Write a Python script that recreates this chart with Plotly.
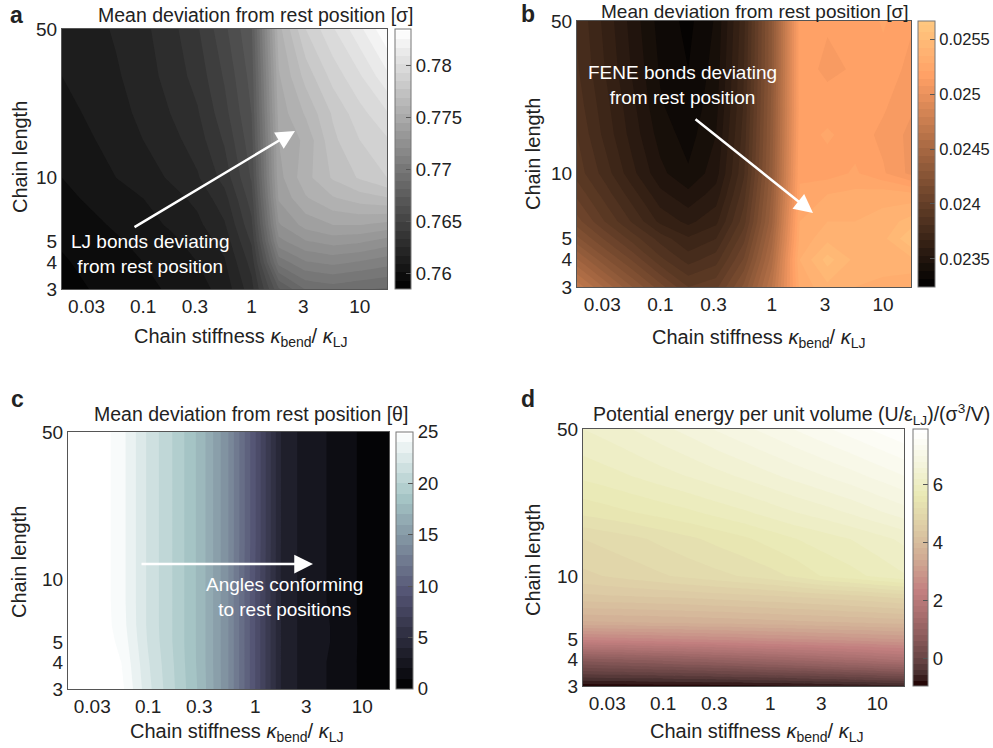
import math
import plotly.graph_objects as go

# ---------------- data ----------------
stiffness = [0.0178, 0.0316, 0.0562, 0.1, 0.178, 0.316, 0.562, 1.0, 1.78, 3.16, 5.62, 10.0, 17.8]
chain_length = [3, 4, 5, 6, 8, 10, 15, 20, 30, 50]

x_tick_vals = [0.03, 0.1, 0.3, 1, 3, 10]
x_tick_text = ["0.03", "0.1", "0.3", "1", "3", "10"]
y_tick_vals = [3, 4, 5, 10, 50]
y_tick_text = ["3", "4", "5", "10", "50"]

# (a) LJ bond deviation [sigma]; rows = chain_length, cols = stiffness
lj_dev = [
    [0.7590, 0.7593, 0.7596, 0.7599, 0.7602, 0.7606, 0.7612, 0.7630, 0.7672, 0.7690, 0.7693, 0.7690, 0.7688],
    [0.7592, 0.7595, 0.7598, 0.7601, 0.7605, 0.7609, 0.7616, 0.7636, 0.7700, 0.7712, 0.7715, 0.7712, 0.7708],
    [0.7594, 0.7597, 0.7600, 0.7603, 0.7607, 0.7612, 0.7620, 0.7642, 0.7718, 0.7728, 0.7732, 0.7730, 0.7725],
    [0.7596, 0.7599, 0.7602, 0.7606, 0.7610, 0.7615, 0.7624, 0.7647, 0.7728, 0.7740, 0.7745, 0.7745, 0.7742],
    [0.7599, 0.7602, 0.7605, 0.7609, 0.7614, 0.7619, 0.7630, 0.7653, 0.7738, 0.7752, 0.7760, 0.7765, 0.7768],
    [0.7601, 0.7605, 0.7609, 0.7613, 0.7618, 0.7624, 0.7636, 0.7658, 0.7742, 0.7758, 0.7770, 0.7778, 0.7785],
    [0.7604, 0.7608, 0.7612, 0.7617, 0.7622, 0.7629, 0.7642, 0.7662, 0.7745, 0.7755, 0.7775, 0.7785, 0.7792],
    [0.7606, 0.7610, 0.7614, 0.7619, 0.7625, 0.7632, 0.7646, 0.7665, 0.7748, 0.7762, 0.7778, 0.7790, 0.7800],
    [0.7609, 0.7612, 0.7616, 0.7621, 0.7628, 0.7636, 0.7650, 0.7668, 0.7752, 0.7772, 0.7788, 0.7800, 0.7815],
    [0.7612, 0.7614, 0.7618, 0.7623, 0.7630, 0.7640, 0.7655, 0.7672, 0.7758, 0.7785, 0.7800, 0.7815, 0.7832],
]

# (b) FENE bond deviation [sigma]
fene_dev = [
    [0.02470, 0.02450, 0.02430, 0.02412, 0.02395, 0.02400, 0.02425, 0.02465, 0.02530, 0.02540, 0.02535, 0.02532, 0.02530],
    [0.02445, 0.02425, 0.02408, 0.02390, 0.02378, 0.02385, 0.02410, 0.02455, 0.02535, 0.02552, 0.02540, 0.02540, 0.02540],
    [0.02425, 0.02408, 0.02392, 0.02378, 0.02368, 0.02374, 0.02400, 0.02448, 0.02530, 0.02540, 0.02538, 0.02540, 0.02555],
    [0.02412, 0.02395, 0.02380, 0.02365, 0.02358, 0.02365, 0.02392, 0.02442, 0.02528, 0.02535, 0.02535, 0.02538, 0.02545],
    [0.02400, 0.02385, 0.02370, 0.02355, 0.02348, 0.02356, 0.02385, 0.02438, 0.02522, 0.02528, 0.02530, 0.02532, 0.02530],
    [0.02392, 0.02378, 0.02362, 0.02348, 0.02340, 0.02350, 0.02380, 0.02435, 0.02520, 0.02518, 0.02522, 0.02515, 0.02505],
    [0.02388, 0.02372, 0.02357, 0.02343, 0.02336, 0.02346, 0.02377, 0.02433, 0.02518, 0.02522, 0.02518, 0.02512, 0.02505],
    [0.02385, 0.02370, 0.02355, 0.02340, 0.02334, 0.02344, 0.02375, 0.02432, 0.02517, 0.02518, 0.02518, 0.02515, 0.02508],
    [0.02382, 0.02367, 0.02352, 0.02338, 0.02332, 0.02342, 0.02374, 0.02430, 0.02518, 0.02512, 0.02515, 0.02518, 0.02512],
    [0.02380, 0.02365, 0.02350, 0.02336, 0.02330, 0.02340, 0.02372, 0.02430, 0.02518, 0.02515, 0.02515, 0.02522, 0.02515],
]

# (c) angle deviation [theta]
angle_dev = [
    [26.0, 26.0, 25.3, 22.3, 20.0, 17.6, 14.0, 9.0, 3.8, 2.4, 1.8, 0.8, 0.2],
    [26.0, 26.0, 25.0, 22.1, 19.9, 17.5, 14.0, 9.0, 3.8, 2.4, 1.8, 0.8, 0.2],
    [26.0, 26.0, 24.7, 21.9, 19.8, 17.5, 14.0, 9.0, 3.8, 2.4, 1.9, 0.8, 0.2],
    [26.0, 25.9, 24.5, 21.8, 19.8, 17.5, 14.0, 9.0, 3.8, 2.4, 1.9, 0.8, 0.2],
    [26.0, 25.9, 24.4, 21.8, 19.8, 17.5, 14.0, 9.0, 3.8, 2.4, 1.8, 0.8, 0.2],
    [26.0, 25.9, 24.4, 21.8, 19.8, 17.5, 14.0, 9.0, 3.8, 2.4, 1.8, 0.8, 0.2],
    [26.0, 25.9, 24.4, 21.8, 19.8, 17.5, 14.0, 9.1, 3.8, 2.4, 1.8, 0.8, 0.2],
    [26.0, 25.9, 24.4, 21.8, 19.8, 17.5, 14.0, 9.1, 3.8, 2.4, 1.8, 0.8, 0.2],
    [26.0, 25.9, 24.4, 21.8, 19.8, 17.5, 14.0, 9.1, 3.8, 2.4, 1.8, 0.8, 0.2],
    [26.0, 25.9, 24.4, 21.8, 19.8, 17.5, 14.0, 9.1, 3.8, 2.4, 1.8, 0.8, 0.2],
]

# (d) potential energy per unit volume
energy = [
    [-0.92, -0.91, -0.90, -0.89, -0.88, -0.87, -0.85, -0.83, -0.80, -0.76, -0.72, -0.68, -0.64],
    [0.70, 0.76, 0.82, 0.88, 0.95, 1.02, 1.10, 1.18, 1.27, 1.36, 1.45, 1.55, 1.65],
    [2.45, 2.49, 2.53, 2.57, 2.61, 2.65, 2.70, 2.75, 2.80, 2.85, 2.90, 2.95, 3.00],
    [3.55, 3.57, 3.59, 3.61, 3.63, 3.65, 3.68, 3.71, 3.74, 3.77, 3.80, 3.83, 3.86],
    [4.35, 4.38, 4.40, 4.43, 4.46, 4.50, 4.54, 4.58, 4.63, 4.68, 4.74, 4.80, 4.88],
    [4.75, 4.82, 4.90, 4.98, 5.06, 5.14, 5.22, 5.32, 5.45, 5.62, 5.72, 5.85, 5.98],
    [5.00, 5.08, 5.16, 5.26, 5.36, 5.46, 5.56, 5.68, 5.80, 5.90, 6.00, 6.12, 6.25],
    [5.45, 5.52, 5.60, 5.68, 5.76, 5.86, 5.96, 6.08, 6.20, 6.30, 6.42, 6.56, 6.70],
    [5.85, 5.93, 6.02, 6.12, 6.22, 6.33, 6.44, 6.56, 6.68, 6.80, 6.92, 7.06, 7.20],
    [6.20, 6.30, 6.42, 6.55, 6.68, 6.82, 6.95, 7.08, 7.22, 7.36, 7.50, 7.64, 7.78],
]

cb_a_ticks = [0.76, 0.765, 0.77, 0.775, 0.78]
cb_a_text = ["0.76", "0.765", "0.77", "0.775", "0.78"]
cb_b_ticks = [0.0235, 0.024, 0.0245, 0.025, 0.0255]
cb_b_text = ["0.0235", "0.024", "0.0245", "0.025", "0.0255"]
cb_c_ticks = [0, 5, 10, 15, 20, 25]
cb_c_text = ["0", "5", "10", "15", "20", "25"]
cb_d_ticks = [0, 2, 4, 6]
cb_d_text = ["0", "2", "4", "6"]

# ---------------- styling ----------------
W, H = 993, 748
FONT = "Liberation Sans, Arial, Helvetica, sans-serif"
TXT = "#222222"

gray_cs = [[0, "rgb(0,0,0)"], [1, "rgb(255,255,255)"]]
copper_cs = [[0, "rgb(0,0,0)"], [0.8, "rgb(255,159,101)"], [1, "rgb(255,199,127)"]]
bone_cs = [[0, "rgb(0,0,0)"], [0.375, "rgb(84,84,116)"], [0.75, "rgb(167,199,199)"], [1, "rgb(255,255,255)"]]
pink_cs = [[0, "rgb(30,0,0)"], [0.05, "rgb(71,47,47)"], [0.1, "rgb(101,66,66)"], [0.2, "rgb(142,93,93)"],
           [0.3, "rgb(174,114,114)"], [0.375, "rgb(195,128,128)"], [0.5, "rgb(208,170,147)"],
           [0.625, "rgb(221,204,165)"], [0.75, "rgb(233,233,180)"], [0.875, "rgb(244,244,221)"],
           [1, "rgb(255,255,255)"]]


def fx(px):
    return px / W


def fy(py):
    return 1 - py / H


panels = [
    dict(z=lj_dev, cs=gray_cs, zmin=0.7585, zmax=0.7835, start=0.7585, size=0.0008,
         box=(62, 29, 387, 289), cb=(395, 16), ticks=cb_a_ticks, ttext=cb_a_text, cbfont=18.5),
    dict(z=fene_dev, cs=copper_cs, zmin=0.023245, zmax=0.025664, start=0.02325, size=0.00007,
         box=(577, 21, 911, 287), cb=(918, 17), ticks=cb_b_ticks, ttext=cb_b_text, cbfont=16.5),
    dict(z=angle_dev, cs=bone_cs, zmin=0, zmax=25, start=0, size=1.0,
         box=(68, 432, 389, 689), cb=(396, 17), ticks=cb_c_ticks, ttext=cb_c_text, cbfont=18.5),
    dict(z=energy, cs=pink_cs, zmin=-0.97, zmax=7.94, start=-1.0, size=0.2,
         box=(583, 429, 904, 686), cb=(913, 15), ticks=cb_d_ticks, ttext=cb_d_text, cbfont=18.5),
]

fig = go.Figure()
layout = dict(width=W, height=H, margin=dict(l=0, r=0, t=0, b=0, autoexpand=False),
              paper_bgcolor="white", plot_bgcolor="white",
              font=dict(family=FONT, size=19, color=TXT), showlegend=False)

for i, p in enumerate(panels):
    n = "" if i == 0 else str(i + 1)
    l, t, r, b = p["box"]
    cbl, cbw = p["cb"]
    fig.add_trace(go.Contour(
        x=stiffness, y=chain_length, z=p["z"],
        xaxis="x" + n, yaxis="y" + n,
        colorscale=p["cs"], zmin=p["zmin"], zmax=p["zmax"], zauto=False,
        contours=dict(start=p["start"], end=p["zmax"], size=p["size"], coloring="fill"),
        line=dict(width=0, smoothing=0),
        colorbar=dict(x=fx(cbl), xanchor="left", xpad=0, ypad=0,
                      y=fy((t + b) / 2), yanchor="middle",
                      len=b - t, lenmode="pixels", thickness=cbw, thicknessmode="pixels",
                      outlinewidth=1, outlinecolor="#777777",
                      ticks="inside", ticklen=5, tickcolor="#555555",
                      tickvals=p["ticks"], ticktext=p["ttext"],
                      tickfont=dict(size=p["cbfont"], color=TXT, family=FONT)),
        hoverinfo="skip",
    ))
    layout["xaxis" + n] = dict(domain=[fx(l), fx(r)], anchor="y" + n, type="log",
                               range=[math.log10(stiffness[0]), math.log10(stiffness[-1])],
                               tickvals=x_tick_vals, ticktext=x_tick_text, ticks="",
                               showline=True, mirror=True, linecolor="#555555", linewidth=1,
                               showgrid=False, zeroline=False, tickfont=dict(size=19))
    layout["yaxis" + n] = dict(domain=[fy(b), fy(t)], anchor="x" + n, type="log",
                               range=[math.log10(chain_length[0]), math.log10(chain_length[-1])],
                               tickvals=y_tick_vals, ticktext=y_tick_text, ticks="",
                               showline=True, mirror=True, linecolor="#555555", linewidth=1,
                               showgrid=False, zeroline=False, tickfont=dict(size=19))

ann = []


def text(px, py, s, size=19, color=TXT, angle=0):
    ann.append(dict(x=fx(px), y=fy(py), xref="paper", yref="paper", text=s, showarrow=False,
                    xanchor="center", yanchor="middle", textangle=angle,
                    font=dict(size=size, color=color, family=FONT)))


# panel letters
for lab, px, py in [("a", 16, 15), ("b", 528, 14), ("c", 17, 399), ("d", 528, 399)]:
    text(px, py, "<b>" + lab + "</b>", size=23)

# panel titles
text(256, 15, "Mean deviation from rest position [σ]", size=19.5)
text(754, 12, "Mean deviation from rest position [σ]", size=19)
text(251, 414, "Mean deviation from rest position [θ]", size=19.5)
text(791, 414, "Potential energy per unit volume (U/ε<sub>LJ</sub>)/(σ<sup>3</sup>/V)", size=19.5)

# axis titles
xt = "Chain stiffness <i>κ</i><sub>bend</sub>/ <i>κ</i><sub>LJ</sub>"
text(240, 337, xt, size=20)
text(758, 338, xt, size=20)
text(236, 732, xt, size=20)
text(756, 732, xt, size=20)
text(20, 157, "Chain length", size=20, angle=-90)
text(533, 154, "Chain length", size=20, angle=-90)
text(19, 562, "Chain length", size=20, angle=-90)
text(533, 560, "Chain length", size=20, angle=-90)

# in-plot annotations
text(150, 254, "LJ bonds deviating<br>from rest position", color="white")
text(682, 85, "FENE bonds deviating<br>from rest position", color="white")
text(284, 597, "Angles conforming<br>to rest positions", color="white")


def arrow(hx, hy, tx, ty):
    ann.append(dict(x=fx(hx), y=fy(hy), xref="paper", yref="paper", text="",
                    showarrow=True, ax=tx - hx, ay=ty - hy, axref="pixel", ayref="pixel",
                    arrowcolor="white", arrowwidth=2.5, arrowhead=2, arrowsize=1.5, standoff=0))


arrow(295, 131, 133, 228)
arrow(813, 213, 694, 118)
arrow(313, 564, 140, 564)

layout["annotations"] = ann
fig.update_layout(**layout)
fig.write_html("out.html", config={"displayModeBar": False},
               post_script="document.body.style.margin='0px';document.body.style.overflow='hidden';")
